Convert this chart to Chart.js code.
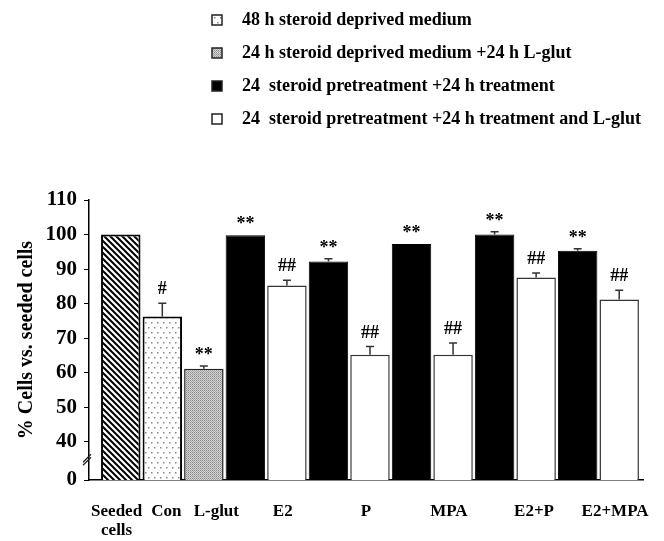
<!DOCTYPE html>
<html>
<head>
<meta charset="utf-8">
<script src="https://cdn.jsdelivr.net/npm/chart.js@4.4.0/dist/chart.umd.min.js"></script>
<style>
  html, body { margin: 0; padding: 0; background: #fff; }
  #chartCanvas { display: block; }
</style>
</head>
<body>
<canvas id="chartCanvas" width="664" height="541"></canvas>
<script>
// data
var xLabels = [['Seeded', 'cells'], ['Con'], ['L-glut'], ['E2'], ['P'], ['MPA'], ['E2+P'], ['E2+MPA']];
var yTicks = [29, 40, 50, 60, 70, 80, 90, 100, 110]; // 29 stands for the broken "0"
var legendLabels = [
    '48 h steroid deprived medium',
    '24 h steroid deprived medium +24 h L-glut',
    '24  steroid pretreatment +24 h treatment',
    '24  steroid pretreatment +24 h treatment and L-glut'
];

var seededValue = [100];
var conValue = [76.3];
var conError = [3.8];
var glutValue = [61.2];
var glutError = [0.8];

var treatments = ['E2', 'P', 'MPA', 'E2+P', 'E2+MPA'];
var steroidValues = [99.8, 92.2, 97.3, 100.0, 95.3];
var steroidErrors = [0, 0.8, 0, 0.8, 0.6];
var steroidGlutValues = [85.3, 65.2, 65.2, 87.6, 81.2];
var steroidGlutErrors = [1.5, 2.4, 3.4, 1.3, 2.7];

var conMark = '#';
var glutMark = '**';
var steroidMark = '**';
var steroidGlutMark = '##';

// layout
var xLabelShift = [-0.1, 0.1, 0.3, 0.9, 0.9, 0.9, 0.95, 0.9];
var serif = "'Liberation Serif', 'Times New Roman', serif";

function makePattern(w, h, drawFn) {
    var c = document.createElement('canvas');
    c.width = w;
    c.height = h;
    var g = c.getContext('2d');
    drawFn(g);
    return document.getElementById('chartCanvas').getContext('2d').createPattern(c, 'repeat');
}

var hatchPattern = makePattern(6, 6, function(g) {
    g.fillStyle = '#fff';
    g.fillRect(0, 0, 6, 6);
    g.strokeStyle = '#000';
    g.lineWidth = 2;
    g.beginPath();
    g.moveTo(-1, -1); g.lineTo(7, 7);
    g.moveTo(-1, 5); g.lineTo(1, 7);
    g.moveTo(5, -1); g.lineTo(7, 1);
    g.stroke();
});

var dotPattern = makePattern(6, 10, function(g) {
    g.fillStyle = '#fff';
    g.fillRect(0, 0, 6, 10);
    g.fillStyle = '#888';
    g.fillRect(1, 2, 1.5, 1.5);
    g.fillRect(4, 7, 1.5, 1.5);
});

var stipplePattern = makePattern(2, 2, function(g) {
    g.fillStyle = '#d4d4d4';
    g.fillRect(0, 0, 2, 2);
    g.fillStyle = '#8a8a8a';
    g.fillRect(0, 0, 1, 1);
    g.fillStyle = '#a8a8a8';
    g.fillRect(1, 1, 1, 1);
});

function points(slots, values, errors, mark) {
    return values.map(function(v, i) {
        return { x: slots[i], y: v, err: errors ? errors[i] : 0, mark: mark };
    });
}

var steroidSlots = treatments.map(function(t, i) { return 3 + 2 * i; });
var steroidGlutSlots = treatments.map(function(t, i) { return 4 + 2 * i; });

var extras = {
    id: 'extras',
    beforeDraw: function(chart) {
        var c = chart.ctx;
        c.save();
        c.fillStyle = '#fff';
        c.fillRect(0, 0, chart.width, chart.height);
        c.restore();
    },
    afterDatasetsDraw: function(chart) {
        var c = chart.ctx;
        var y = chart.scales.y;
        c.save();
        chart.data.datasets.forEach(function(ds, di) {
            var meta = chart.getDatasetMeta(di);
            meta.data.forEach(function(bar, i) {
                var p = ds.data[i];
                var top = y.getPixelForValue(p.y + p.err);
                if (p.err > 0) {
                    c.strokeStyle = '#333';
                    c.lineWidth = 1.5;
                    c.beginPath();
                    c.moveTo(bar.x, bar.y);
                    c.lineTo(bar.x, top);
                    c.moveTo(bar.x - 4, top);
                    c.lineTo(bar.x + 4, top);
                    c.stroke();
                }
                if (p.mark) {
                    c.fillStyle = '#000';
                    c.font = 'bold 18px ' + serif;
                    c.textAlign = 'center';
                    c.textBaseline = 'alphabetic';
                    var gap = p.mark.charAt(0) === '*' ? 6 : 9;
                    c.fillText(p.mark, bar.x, top - gap);
                }
            });
        });
        // axis break marks
        var ax = chart.chartArea.left;
        var by = y.getPixelForValue(35);
        c.strokeStyle = '#222';
        c.lineWidth = 1.2;
        c.beginPath();
        c.moveTo(ax - 6, by + 3); c.lineTo(ax + 2, by - 5);
        c.moveTo(ax - 6, by + 6); c.lineTo(ax + 2, by - 2);
        c.stroke();
        c.restore();
    },
    afterDraw: function(chart) {
        var c = chart.ctx;
        var x = chart.scales.x;
        var datasets = chart.data.datasets;
        c.save();
        // legend
        var rows = [20, 53, 86, 119];
        c.font = 'bold 18px ' + serif;
        c.textAlign = 'left';
        c.textBaseline = 'middle';
        for (var i = 0; i < legendLabels.length; i++) {
            var ds = datasets[i + 1];
            c.fillStyle = ds.backgroundColor;
            c.fillRect(212, rows[i] - 5, 10, 10);
            c.strokeStyle = '#222';
            c.lineWidth = 1.5;
            c.strokeRect(212, rows[i] - 5, 10, 10);
            c.fillStyle = '#000';
            c.fillText(legendLabels[i], 242, rows[i]);
        }
        // category labels
        var slots = [0, 1, 2].concat(steroidSlots);
        c.font = 'bold 17px ' + serif;
        c.textAlign = 'center';
        xLabels.forEach(function(lines, i) {
            var px = x.getPixelForValue(slots[i] + xLabelShift[i]);
            lines.forEach(function(line, k) {
                c.fillText(line, px, 512 + k * 19);
            });
        });
        c.restore();
    }
};

var ctx = document.getElementById('chartCanvas');

var myChart = new Chart(ctx, {
    type: 'bar',
    data: {
        datasets: [{
            label: 'Seeded cells',
            data: points([0], seededValue, null, null),
            backgroundColor: hatchPattern,
            borderColor: '#000',
            borderWidth: 2
        },
        {
            label: legendLabels[0],
            data: points([1], conValue, conError, conMark),
            backgroundColor: dotPattern,
            borderColor: '#000',
            borderWidth: 2
        },
        {
            label: legendLabels[1],
            data: points([2], glutValue, glutError, glutMark),
            backgroundColor: stipplePattern,
            borderColor: '#222',
            borderWidth: 1.5
        },
        {
            label: legendLabels[2],
            data: points(steroidSlots, steroidValues, steroidErrors, steroidMark),
            backgroundColor: '#000',
            borderColor: '#000',
            borderWidth: 1
        },
        {
            label: legendLabels[3],
            data: points(steroidGlutSlots, steroidGlutValues, steroidGlutErrors, steroidGlutMark),
            backgroundColor: '#fff',
            borderColor: '#333',
            borderWidth: 1.5
        }]
    },
    options: {
        responsive: false,
        animation: false,
        datasets: {
            bar: {
                grouped: false,
                categoryPercentage: 1,
                barPercentage: 0.95,
                borderSkipped: false
            }
        },
        layout: {
            padding: { top: 200, right: 21, left: 0, bottom: 0 }
        },
        scales: {
            x: {
                type: 'linear',
                offset: false,
                min: -0.765,
                max: 12.573,
                grid: { display: false, offset: false },
                ticks: { display: false },
                border: { display: true, color: '#000', width: 1.5 },
                afterFit: function(s) { s.height = 61; }
            },
            y: {
                min: 29,
                max: 110,
                afterBuildTicks: function(s) {
                    s.ticks = yTicks.map(function(v) { return { value: v }; });
                },
                grid: {
                    drawOnChartArea: false,
                    drawTicks: true,
                    tickLength: 5,
                    color: '#000'
                },
                border: { display: true, color: '#000', width: 1.5 },
                ticks: {
                    color: '#000',
                    padding: 7,
                    font: { family: serif, size: 21, weight: 'bold' },
                    callback: function(v) { return v === 29 ? '0' : v; }
                },
                title: {
                    display: true,
                    text: '% Cells vs. seeded cells',
                    color: '#000',
                    font: { family: serif, size: 20, weight: 'bold' },
                    padding: { top: 15, bottom: 0 }
                },
                afterFit: function(s) { s.width = 89; }
            }
        },
        plugins: {
            legend: { display: false },
            tooltip: { enabled: false }
        }
    },
    plugins: [extras]
});
</script>
</body>
</html>
